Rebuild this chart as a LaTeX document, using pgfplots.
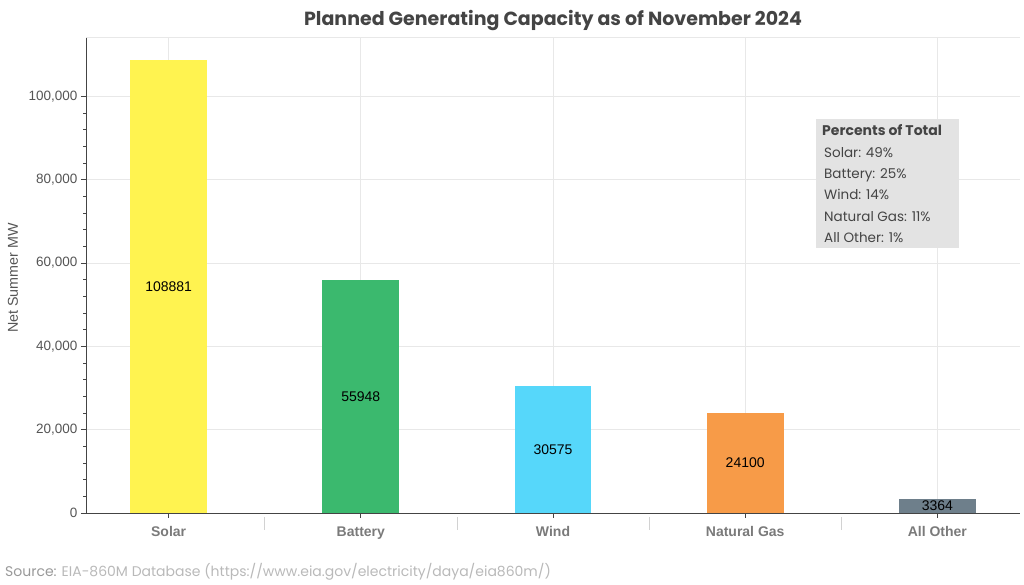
\documentclass[border=0pt]{standalone}
\usepackage{pgfplots}
\pgfplotsset{compat=1.18}
\usepackage{fontspec}
\setmainfont{Liberation Sans}
\newfontfamily\poppins{Poppins}
\definecolor{csolar}{RGB}{255,243,80}
\definecolor{cbatt}{RGB}{59,185,110}
\definecolor{cwind}{RGB}{86,215,250}
\definecolor{cgas}{RGB}{247,155,72}
\definecolor{cother}{RGB}{110,127,139}
\definecolor{gridc}{RGB}{232,232,232}
\definecolor{txt}{RGB}{85,85,85}
\definecolor{xlab}{RGB}{122,122,122}
\definecolor{axc}{RGB}{68,68,68}
\definecolor{boxc}{RGB}{227,227,227}
\begin{document}
\begin{tikzpicture}[x=1pt,y=1pt]
\useasboundingbox (0,0) rectangle (1024,585);
\begin{axis}[
  at={(86pt,72pt)}, anchor=south west,
  width=934pt, height=476pt, scale only axis,
  xmin=-0.43, xmax=4.43, ymin=0, ymax=114300,
  xtick={0,1,2,3,4},
  xticklabels={Solar,Battery,Wind,Natural Gas,All Other},
  ytick={0,20000,40000,60000,80000,100000},
  minor y tick num=4,
  scaled y ticks=false,
  /pgf/number format/.cd, fixed, 1000 sep={,}, assume math mode=true,
  /pgfplots/.cd,
  axis x line*=bottom, axis y line*=left,
  axis line style={axc, line width=0.9pt},
  tick style={axc, line width=0.8pt},
  tick align=outside,
  major tick length=5pt, minor tick length=3pt,
  xmajorgrids, ymajorgrids,
  grid style={gridc, line width=0.8pt},
  xticklabel style={font=\fontsize{14}{16}\selectfont\bfseries, text=xlab, yshift=-5pt},
  yticklabel style={font=\fontsize{13.5}{16}\selectfont, text=txt},
  ylabel={Net Summer MW},
  every axis y label/.style={at={(rel axis cs:0,0.5)}, xshift=-73pt, yshift=-3pt, rotate=90, anchor=center,
     font=\fontsize{14.3}{16}\selectfont, text=txt},
  clip=false,
  every node near coord/.style={anchor=center, font=\fontsize{14}{16}\selectfont, text=black},
]
\addplot[ybar, bar width=0.4, fill=csolar, draw=none] coordinates {(0,108881)};
\addplot[ybar, bar width=0.4, fill=cbatt, draw=none] coordinates {(1,55948)};
\addplot[ybar, bar width=0.4, fill=cwind, draw=none] coordinates {(2,30575)};
\addplot[ybar, bar width=0.4, fill=cgas, draw=none] coordinates {(3,24100)};
\addplot[ybar, bar width=0.4, fill=cother, draw=none] coordinates {(4,3364)};
% value labels at mid-height of each bar
\addplot[draw=none, mark=none, nodes near coords, point meta=explicit symbolic]
  coordinates {(0,54440)[108881] (1,27974)[55948] (2,15288)[30575] (3,12050)[24100] (4,1682)[3364]};
\draw[gridc, line width=0.8pt] (rel axis cs:0,1) -- (rel axis cs:1,1);
\pgfplotsinvokeforeach{0.5,1.5,2.5,3.5}{
  \draw[gray!35, line width=0.8pt] ([yshift=-4pt]axis cs:#1,0) -- ([yshift=-17pt]axis cs:#1,0);
}
\end{axis}
% title
\node[font=\poppins\bfseries\fontsize{19}{21}\selectfont, text=axc, anchor=base] at (553,559) {Planned Generating Capacity as of November 2024};
% percent box
\fill[boxc] (816,337) rectangle (959,466);
\node[font=\poppins\bfseries\fontsize{14}{16}\selectfont, text=axc, anchor=base west, inner sep=0] at (822,449) {Percents of Total};
\begin{scope}[every node/.style={font=\poppins\fontsize{13.5}{16}\selectfont, text=axc, anchor=base west, inner sep=0}]
\node at (824,427.3) {Solar: 49\%};
\node at (824,406) {Battery: 25\%};
\node at (824,385) {Wind: 14\%};
\node at (824,363.3) {Natural Gas: 11\%};
\node at (824,342) {All Other: 1\%};
\end{scope}
% source
\node[font=\poppins\fontsize{14}{16}\selectfont, anchor=base west, inner sep=0] at (5,8) {\textcolor{gray!80}{Source:} \textcolor{gray!55}{EIA-860M Database (https://www.eia.gov/electricity/daya/eia860m/)}};
\end{tikzpicture}
\end{document}
